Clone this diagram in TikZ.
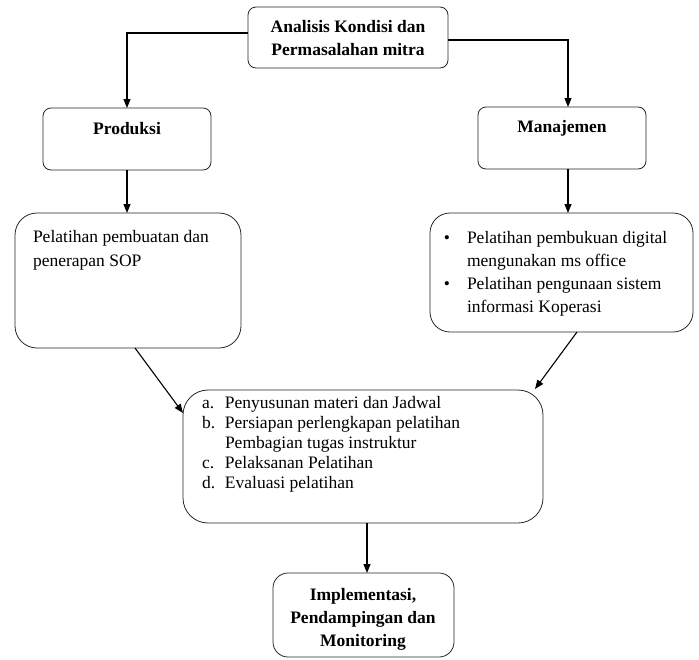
\documentclass[tikz,border=0pt]{standalone}
\usepackage{fontspec}
\setmainfont{Liberation Serif}
\usetikzlibrary{arrows.meta}
\tikzset{
  box/.style={draw=black!85, line width=0.8pt, inner sep=0pt, outer sep=0pt, fill=none},
  arr/.style={draw=black, line width=1.1pt, -{Triangle[length=9pt,width=7pt]}},
  txt/.style={inner sep=0pt, outer sep=0pt, font=\fontsize{17.5}{23}\selectfont},
  txtb/.style={txt, font=\fontsize{17.5}{23}\selectfont\bfseries},
}
\begin{document}
\begin{tikzpicture}[x=1pt,y=-1pt]
\useasboundingbox (0,0) rectangle (699,659);
% boxes
\node[box, rounded corners=8pt, minimum width=200pt, minimum height=61pt] (top) at (348,37.5) {};
\node[box, rounded corners=8pt, minimum width=168pt, minimum height=62pt] (prod) at (127,139) {};
\node[box, rounded corners=8pt, minimum width=168pt, minimum height=62pt] (man) at (562,138) {};
\node[box, rounded corners=22pt, minimum width=226pt, minimum height=135pt] (left) at (128,280.5) {};
\node[box, rounded corners=20pt, minimum width=263pt, minimum height=119pt] (right) at (561.5,272.5) {};
\node[box, rounded corners=25pt, minimum width=360pt, minimum height=133pt] (big) at (363,456.5) {};
\node[box, rounded corners=15pt, minimum width=181pt, minimum height=84pt] (bot) at (363.5,615) {};
% texts
\node[txtb, anchor=north, align=center] (toptxt) at (348,{32-16.1}) {\strut Analisis Kondisi dan\\Permasalahan mitra};
\node[txtb, anchor=base] (prodtxt) at (127,134) {Produksi};
\node[txtb, anchor=base] (mantxt) at (562,132) {Manajemen};
\node[txt, anchor=north west, align=left, font=\fontsize{17.5}{24}\selectfont] (lefttxt) at (33,{242-16.8}) {\strut Pelatihan pembuatan dan\\penerapan SOP};
\node[txt, anchor=north west, align=left, font=\fontsize{17.5}{23.3}\selectfont] (righttxt) at (467,{243-16.3}) {\strut Pelatihan pembukuan digital\\mengunakan ms office\\Pelatihan pengunaan sistem\\informasi Koperasi};
\node[txt, anchor=base] (bul1) at (447,243) {•};
\node[txt, anchor=base] (bul2) at (447,289.6) {•};
\node[txt, anchor=north west, align=left, font=\fontsize{17.5}{20}\selectfont] (bigtxt) at (202,{408-14}) {\strut\makebox[23pt][l]{a.}Penyusunan materi dan Jadwal\\\makebox[23pt][l]{b.}Persiapan perlengkapan pelatihan\\\hspace*{23pt}Pembagian tugas instruktur\\\makebox[23pt][l]{c.}Pelaksanan Pelatihan\\\makebox[23pt][l]{d.}Evaluasi pelatihan};
\node[txtb, anchor=north, align=center] (bottxt) at (363,{600-16.1}) {\strut Implementasi,\\Pendampingan dan\\Monitoring};
% connector ends
\coordinate (ltip) at (183,413);
\coordinate (rtip) at (535,389);
% connectors
\draw[arr] ([yshift=4.5pt]top.west) -| (prod.north);
\draw[arr] ([yshift=-2.5pt]top.east) -| ([xshift=6pt]man.north);
\draw[arr] (prod.south) -- (prod.south |- left.north);
\draw[arr] ([xshift=6pt]man.south) -- ([xshift=6pt]man.south |- right.north);
\draw[arr] ([xshift=7pt]left.south) -- (ltip);
\draw[arr] ([xshift=15.5pt]right.south) -- (rtip);
\draw[arr] ([xshift=4pt]big.south) -- ([xshift=4pt]big.south |- bot.north);
\end{tikzpicture}
\end{document}
